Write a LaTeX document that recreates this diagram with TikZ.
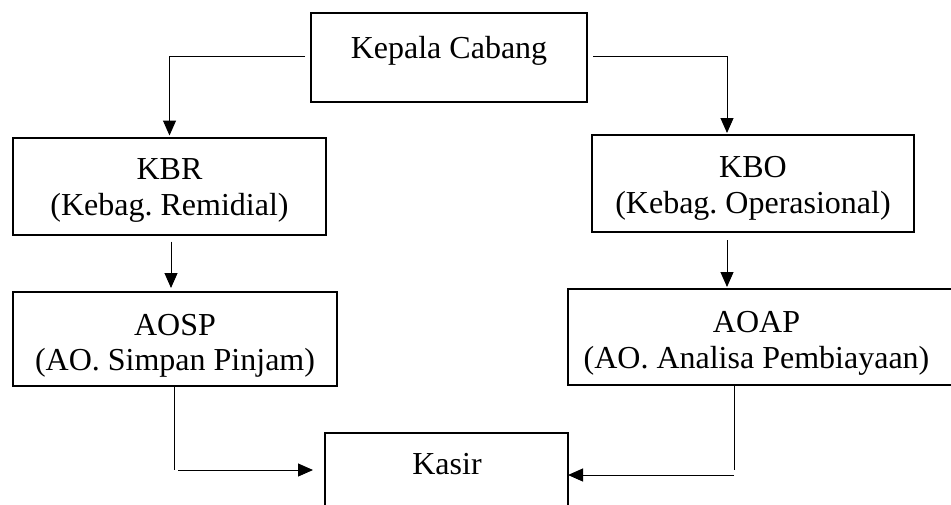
\documentclass[tikz,border=0pt]{standalone}
\usepackage{fontspec}
\setmainfont{Liberation Serif}
\usetikzlibrary{arrows.meta,calc}
\frenchspacing
\begin{document}
\begin{tikzpicture}[x=0.5pt,y=-0.5pt,
  box/.style={draw,line width=1pt,rectangle,inner sep=0pt,outer sep=0pt,fill=white},
  lbl/.style={anchor=base,inner sep=0pt,font=\fontsize{16pt}{19pt}\selectfont},
  link/.style={line width=0.5pt},
  conn/.style={link,-{Triangle[length=7.5pt,width=6.5pt]}}]
\useasboundingbox (0,0) rectangle (951,504);
\clip (0,0) rectangle (951,504);

% boxes
\node[box,minimum width=138pt,minimum height=44.5pt] (kc)    at (449,57.5)  {};
\node[box,minimum width=156.5pt,minimum height=48.5pt] (kbr) at (169.5,186) {};
\node[box,minimum width=161pt,minimum height=48.5pt] (kbo)   at (753,183.5) {};
\node[box,minimum width=162pt,minimum height=47pt] (aosp)    at (175,339)   {};
\node[box,minimum width=198.5pt,minimum height=48pt] (aoap)  at (766.5,337) {};
\node[box,minimum width=121.5pt,minimum height=53.5pt] (kasir) at (446.5,486.5) {};

% labels
\node[lbl] at (449,58)    {Kepala Cabang};
\node[lbl] at (169.5,179) {KBR};
\node[lbl] at (169.5,215) {(Kebag. Remidial)};
\node[lbl] at (753,177)   {KBO};
\node[lbl] at (753,213)   {(Kebag. Operasional)};
\node[lbl] at (175,335)   {AOSP};
\node[lbl] at (175,370)   {(AO. Simpan Pinjam)};
\node[lbl] at (756.5,332) {AOAP};
\node[lbl] at (756.5,368) {(AO. Analisa Pembiayaan)};
\node[lbl] at (447,474)   {Kasir};

% connectors
\draw[conn,shorten >=1pt] ([xshift=-3pt,yshift=0.75pt]kc.west) -| (kbr.north);
\draw[conn,shorten >=1pt] ([xshift=3pt,yshift=0.75pt]kc.east) -| ([xshift=-13pt]kbo.north);
\draw[conn,shorten >=2pt] ([xshift=0.75pt,yshift=-3.5pt]kbr.south) -- ([xshift=0.75pt]kbr.south |- aosp.north);
\draw[conn,shorten >=1pt] ([xshift=-13pt,yshift=-4pt]kbo.south) -- ([xshift=-13pt]kbo.south |- aoap.north);

\coordinate (jl) at (174,470);
\coordinate (jr) at (734,470);
\draw[link] (aosp.south -| jl) -- (jl);
\draw[conn] ([xshift=2pt]jl) -- ([xshift=-6pt]jl -| kasir.west);
\draw[link] (aoap.south -| jr) -- (jr);
\draw[conn] ([yshift=-2.5pt]jr) -- ([yshift=-2.5pt]jr -| kasir.east);
\end{tikzpicture}
\end{document}
